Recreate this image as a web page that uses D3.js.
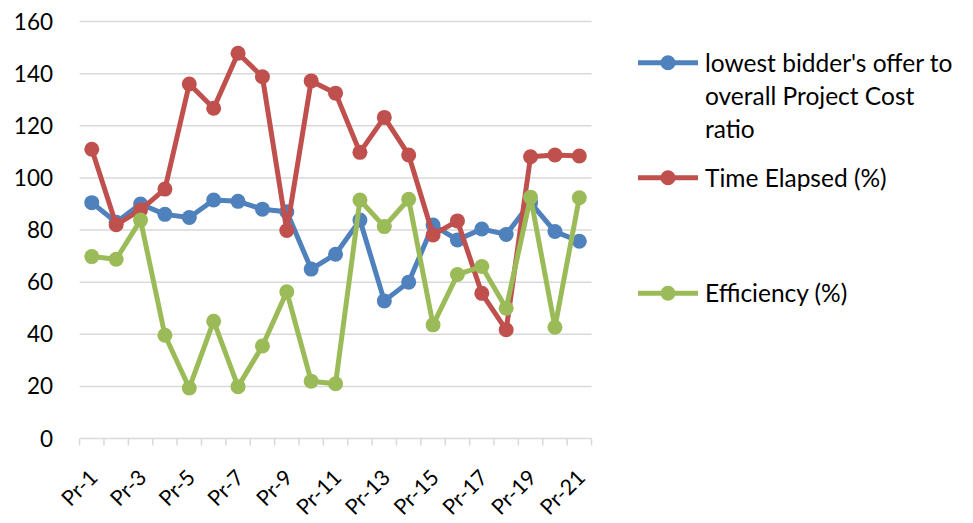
<!DOCTYPE html>
<html><head><meta charset="utf-8">
<script src="https://cdn.jsdelivr.net/npm/d3@7/dist/d3.min.js"></script>
<style>body{margin:0;background:#fff}svg{display:block}text{font-family:Lato,"Open Sans",sans-serif;fill:#000}</style>
</head><body><svg id="c" width="973" height="523"></svg>
<script>
const categories = ["Pr-1","Pr-2","Pr-3","Pr-4","Pr-5","Pr-6","Pr-7","Pr-8","Pr-9","Pr-10","Pr-11","Pr-12","Pr-13","Pr-14","Pr-15","Pr-16","Pr-17","Pr-18","Pr-19","Pr-20","Pr-21"];
const ratioValues = [90.5,83,90,86,84.8,91.5,91,88,87,65,70.7,83.8,52.8,60,81.9,76.2,80.4,78.3,90.5,79.4,75.7];
const timeValues = [111,82,87.7,95.7,136,126.7,147.8,138.8,79.8,137.2,132.5,109.8,123.2,108.8,78.1,83.5,55.7,41.7,108.1,108.8,108.4];
const effValues = [69.8,68.8,83.8,39.6,19.4,45,19.9,35.5,56.3,22,21,91.5,81.3,91.8,43.6,62.9,66,50,92.6,42.7,92.4];
const yTicks = [0,20,40,60,80,100,120,140,160];
const seriesNames = ["lowest bidder's offer to overall Project Cost ratio","Time Elapsed (%)","Efficiency (%)"];
const colors = ["#4F81BD","#C0504D","#9BBB59"];

const series = [
  {name: seriesNames[0], values: ratioValues, color: colors[0], lines: ["lowest bidder's offer to","overall Project Cost","ratio"], ly: 62.7},
  {name: seriesNames[1], values: timeValues, color: colors[1], lines: ["Time Elapsed (%)"], ly: 177.7},
  {name: seriesNames[2], values: effValues, color: colors[2], lines: ["Efficiency (%)"], ly: 293.3}
];

const svg = d3.select("#c");
const pLeft = 79.6, pRight = 591.5, pTop = 21.5, pBottom = 438.5;
const x = d3.scaleBand().domain(categories).range([pLeft, pRight]).padding(0);
const y = d3.scaleLinear().domain([0,160]).range([pBottom, pTop]);

// gridlines
svg.append("g").selectAll("line").data(yTicks.filter(d=>d>0)).join("line")
  .attr("x1", pLeft).attr("x2", pRight)
  .attr("y1", d=>y(d)).attr("y2", d=>y(d))
  .attr("stroke", "#d9d9d9").attr("stroke-width", 1.5);

// y labels
svg.append("g").selectAll("text").data(yTicks).join("text")
  .attr("x", 53).attr("y", d=>y(d)).attr("dy", "0.36em")
  .attr("text-anchor", "end").attr("font-size", 22.5).text(d=>d);

// x axis
const xa = svg.append("g").attr("transform", `translate(0,${pBottom})`);
xa.append("line").attr("x1", pLeft).attr("x2", pRight).attr("stroke", "#d9d9d9").attr("stroke-width", 1.5);
const bounds = categories.map(c=>x(c)).concat([x(categories[categories.length-1]) + x.bandwidth()]);
xa.selectAll("line.t").data(bounds).join("line").attr("class","t")
  .attr("x1", d=>d).attr("x2", d=>d).attr("y1", 0).attr("y2", 7)
  .attr("stroke", "#d9d9d9").attr("stroke-width", 1.5);
xa.selectAll("text").data(categories.filter((c,i)=>i%2===0)).join("text")
  .attr("transform", d=>`translate(${x(d)+x.bandwidth()/2+2},${35}) rotate(-45)`)
  .attr("text-anchor", "end").attr("dy", "0.35em").attr("font-size", 21.5).text(d=>d);

const line = d3.line().x((d,i)=>x(categories[i])+x.bandwidth()/2).y(d=>y(d));
series.forEach(s=>{
  const g = svg.append("g");
  g.append("path").datum(s.values).attr("d", line).attr("fill","none")
    .attr("stroke", s.color).attr("stroke-width", 5).attr("stroke-linejoin","round");
  g.selectAll("circle").data(s.values).join("circle")
    .attr("cx", (d,i)=>x(categories[i])+x.bandwidth()/2).attr("cy", d=>y(d))
    .attr("r", 7.5).attr("fill", s.color);
});

// legend
const lg = svg.append("g");
series.forEach(s=>{
  lg.append("line").attr("x1", 638).attr("x2", 698).attr("y1", s.ly).attr("y2", s.ly)
    .attr("stroke", s.color).attr("stroke-width", 5);
  lg.append("circle").attr("cx", 668).attr("cy", s.ly).attr("r", 7.5).attr("fill", s.color);
  s.lines.forEach((t,k)=>{
    lg.append("text").attr("x", 705).attr("y", s.ly + k*33).attr("dy","0.36em")
      .attr("font-size", 24.5).text(t);
  });
});
</script></body></html>
